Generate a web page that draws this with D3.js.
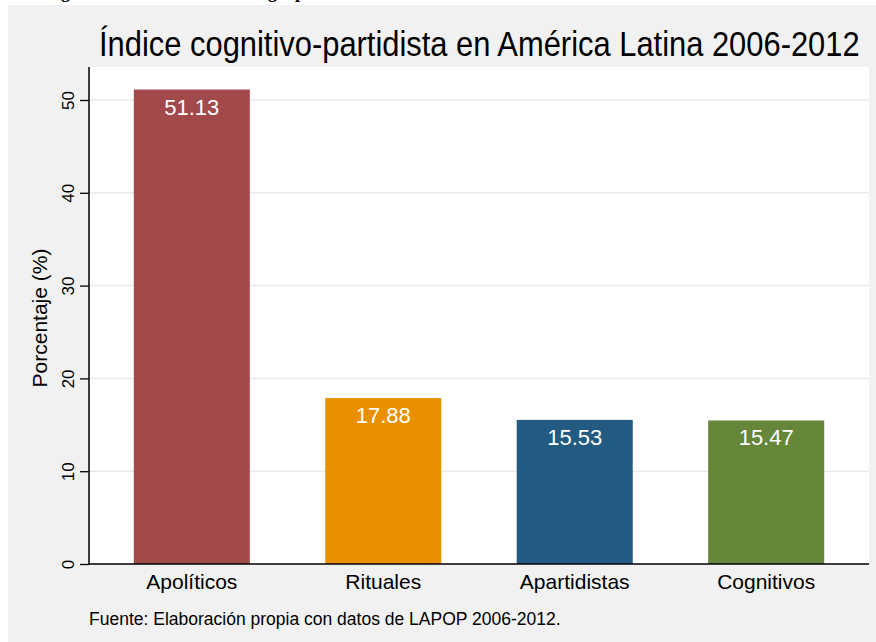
<!DOCTYPE html>
<html><head><meta charset="utf-8">
<script src="https://cdn.jsdelivr.net/npm/d3@7"></script>
<style>
html,body{margin:0;padding:0;background:#fff;}
svg{display:block;font-family:"Liberation Sans",Arial,sans-serif;}
</style></head>
<body>
<script>
const categories = ["Apolíticos","Rituales","Apartidistas","Cognitivos"];
const values = [51.13,17.88,15.53,15.47];
const colors = ["#a2494b","#e98f00","#225a81","#668639"];
const yTicks = [0,10,20,30,40,50];
const title = "Índice cognitivo-partidista en América Latina 2006-2012";
const yLabel = "Porcentaje (%)";
const note = "Fuente: Elaboración propia con datos de LAPOP 2006-2012.";
const caption = "Figura 1. Distribución de los grupos";

const W=876,H=642;
const svg=d3.select("body").append("svg").attr("width",W).attr("height",H);
// caption of the document, cut off by the top edge
svg.append("text").attr("x",45).attr("y",-2).attr("font-family","Liberation Serif").attr("font-weight","bold").attr("font-size",18).attr("fill","#000").text(caption);
svg.append("rect").attr("x",8).attr("y",5).attr("width",W-8).attr("height",H-5).attr("fill","#f1f1f1");

const m={l:89,r:869,t:67,b:564};
svg.append("rect").attr("x",m.l).attr("y",m.t).attr("width",m.r-m.l).attr("height",m.b-m.t).attr("fill","#fff");

const x=d3.scaleBand().domain(categories).range([m.l,m.r]).paddingInner(0.394).paddingOuter(0.234);
const y=d3.scaleLinear().domain([0,50]).range([m.b,m.b-50*9.28]);

// grid
svg.append("g").selectAll("line").data(yTicks.filter(d=>d>0)).join("line")
  .attr("x1",m.l).attr("x2",m.r).attr("y1",d=>y(d)).attr("y2",d=>y(d))
  .attr("stroke","#eaeaea").attr("stroke-width",1.5);

// bars
svg.append("g").selectAll("rect").data(values).join("rect")
  .attr("x",(d,i)=>x(categories[i])).attr("width",x.bandwidth())
  .attr("y",d=>y(d)).attr("height",d=>y(0)-y(d)).attr("fill",(d,i)=>colors[i]);

svg.append("g").selectAll("text").data(values).join("text")
  .attr("x",(d,i)=>x(categories[i])+x.bandwidth()/2).attr("y",d=>y(d)+25)
  .attr("text-anchor","middle").attr("font-size",22).attr("fill","#fff")
  .text(d=>d.toFixed(2));

// y axis
const ya=svg.append("g").attr("transform",`translate(${m.l},0)`)
  .call(d3.axisLeft(y).tickValues(yTicks).tickSize(9).tickFormat(d3.format("d")));
ya.select(".domain").attr("d",`M0,${m.t}V${m.b}`).attr("stroke","#000").attr("stroke-width",1.5);
ya.selectAll(".tick line").attr("stroke","#000").attr("stroke-width",1.3);
ya.selectAll(".tick text").attr("font-size",17).attr("fill","#000").attr("font-family","Liberation Sans")
  .attr("x",null).attr("y",null)
  .attr("transform","translate(-15,0) rotate(-90)").attr("dy",0).attr("text-anchor","middle");

// x axis
svg.append("line").attr("x1",m.l).attr("x2",m.r).attr("y1",m.b).attr("y2",m.b).attr("stroke","#000").attr("stroke-width",1.5);
svg.append("g").selectAll("text").data(categories).join("text")
  .attr("x",d=>x(d)+x.bandwidth()/2).attr("y",589).attr("text-anchor","middle")
  .attr("font-size",21).attr("fill","#000").text(d=>d);

// y label
svg.append("text").attr("transform",`translate(47,318) rotate(-90)`).attr("text-anchor","middle")
  .attr("font-size",21).attr("fill","#000").text(yLabel);

// title: tall, condensed
const t=svg.append("text").attr("font-size",35).attr("fill","#000").text(title);
const tl=t.node().getComputedTextLength();
t.attr("transform",`translate(99,56) scale(${761/tl},1)`);

// note
svg.append("text").attr("x",89).attr("y",625).attr("font-size",17.5).attr("fill","#000").text(note);
</script>
</body></html>
